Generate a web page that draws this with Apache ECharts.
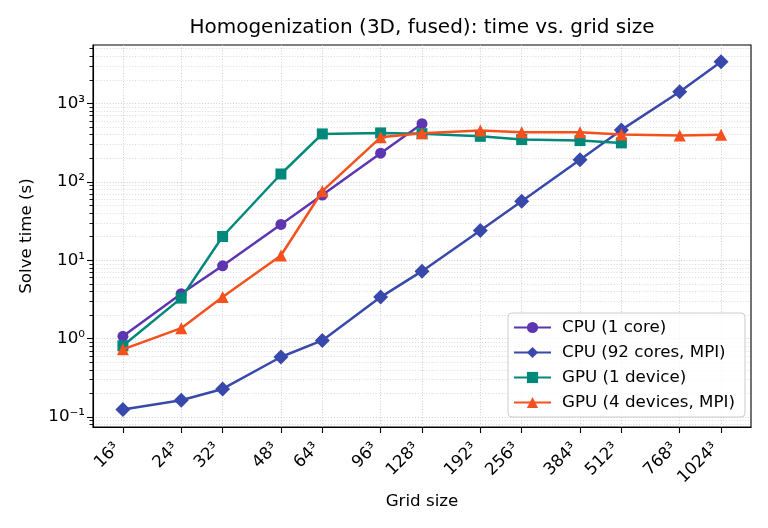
<!DOCTYPE html>
<html><head><meta charset="utf-8">
<script src="https://cdn.jsdelivr.net/npm/echarts@6/dist/echarts.min.js"></script>
<style>html,body{margin:0;padding:0;background:#fff}#c{width:768px;height:528px}</style>
</head><body><div id="c"></div>
<script>
const gridSizes = [16, 24, 32, 48, 64, 96, 128, 192, 256, 384, 512, 768, 1024];
const gridLabels = ['16³','24³','32³','48³','64³','96³','128³','192³','256³','384³','512³','768³','1024³'];
const cpu1  = [1.07, 3.74, 8.5, 28.6, 68, 232, 552, null, null, null, null, null, null];
const cpu92 = [0.125, 0.164, 0.228, 0.583, 0.95, 3.39, 7.26, 24, 56.6, 192, 460, 1414, 3406];
const gpu1  = [0.81, 3.29, 20.1, 126, 409, 421, 412, 381, 346, 336, 314, null, null];
const gpu4  = [0.73, 1.36, 3.39, 11.5, 76, 370, 418, 451, 428, 428, 401, 389, 398];
const seriesNames = ['CPU (1 core)', 'CPU (92 cores, MPI)', 'GPU (1 device)', 'GPU (4 devices, MPI)'];
const yMajor = [0.1, 1, 10, 100, 1000];
const yMajorLabels = ['10⁻¹', '10⁰', '10¹', '10²', '10³'];
const yMinorMult = [2, 3, 4, 5, 6, 7, 8, 9];

const FONT = 'DejaVu Sans';
const FS = 16.7;
const colors = ['#5E35B1', '#3949AB', '#00897B', '#F4511E'];
const symbols = ['circle', 'diamond', 'rect', 'triangle'];
const symSizes = [11, 15, 11, 12];
const xs = gridSizes.map(n => Math.log2(n));
const yMinor = [];
[0.01, 0.1, 1, 10, 100, 1000].forEach(d => yMinorMult.forEach(m => yMinor.push(+(d * m).toPrecision(3))));
const yMin = 0.0746, yMax = 5572;
const yMinorIn = yMinor.filter(v => v >= yMin && v <= yMax);

function mk(vals) { return vals.map((v, i) => v == null ? null : [xs[i], v]).filter(p => p); }
const allData = [cpu1, cpu92, gpu1, gpu4];

const grid = { left: 93, right: 17, top: 45, bottom: 101, show: true, borderColor: '#000', borderWidth: 1.1, containLabel: false };
const majorGrid = { color: '#c8c8c8', width: 0.9, type: [1, 1.8] };
const minorGrid = { color: '#d6d6d6', width: 0.9, type: [1, 1.8] };

const option = {
  animation: false,
  backgroundColor: '#fff',
  title: {
    text: 'Homogenization (3D, fused): time vs. grid size',
    left: 417, top: 13, textAlign: 'center',
    textStyle: { fontFamily: FONT, fontSize: 20, fontWeight: 'normal', color: '#000' }
  },
  legend: {
    orient: 'vertical', left: 508, top: 313,
    padding: [6, 10, 6, 5],
    itemWidth: 37, itemHeight: 14, itemGap: 8,
    backgroundColor: 'rgba(255,255,255,0.8)', borderColor: '#cccccc', borderWidth: 1, borderRadius: 4,
    textStyle: { fontFamily: FONT, fontSize: FS, color: '#000', padding: [0, 0, 0, 6] },
    data: seriesNames
  },
  grid: grid,
  xAxis: {
    type: 'value', min: 3.7, max: 10.3,
    name: 'Grid size', nameLocation: 'middle', nameGap: 62,
    nameTextStyle: { fontFamily: FONT, fontSize: FS, color: '#000' },
    axisLine: { show: true, onZero: false, lineStyle: { color: '#000', width: 1.1 } },
    axisTick: { show: true, length: 6, customValues: xs, lineStyle: { color: '#000', width: 1.1 } },
    axisLabel: {
      customValues: xs, rotate: 45, margin: 13, padding: [0, 8, 0, 0],
      fontFamily: FONT, fontSize: FS, color: '#000',
      formatter: v => { let best = 0; xs.forEach((x, i) => { if (Math.abs(x - v) < Math.abs(xs[best] - v)) best = i; }); return gridLabels[best]; }
    },
    splitLine: { show: true, lineStyle: majorGrid }
  },
  yAxis: [{
    type: 'log', min: yMin, max: yMax,
    name: 'Solve time (s)', nameLocation: 'middle', nameGap: 58,
    nameTextStyle: { fontFamily: FONT, fontSize: FS, color: '#000' },
    axisLine: { show: true, lineStyle: { color: '#000', width: 1.1 } },
    axisTick: { show: true, length: 6, customValues: yMajor, lineStyle: { color: '#000', width: 1.1 } },
    axisLabel: {
      customValues: yMajor, margin: 8, fontFamily: FONT, fontSize: FS, color: '#000',
      formatter: v => { let best = 0; yMajor.forEach((y, i) => { if (Math.abs(Math.log10(y / v)) < Math.abs(Math.log10(yMajor[best] / v))) best = i; }); return yMajorLabels[best]; }
    },
    splitLine: { show: true, lineStyle: majorGrid }
  }, {
    type: 'log', min: yMin, max: yMax, position: 'left',
    axisLine: { show: false },
    axisTick: { show: true, length: 3.5, customValues: yMinorIn, lineStyle: { color: '#000', width: 0.9 } },
    axisLabel: { show: false },
    splitLine: { show: true, lineStyle: minorGrid }
  }],
  series: allData.map((d, k) => ({
    name: seriesNames[k], type: 'line', yAxisIndex: 0,
    data: mk(d),
    symbol: symbols[k], symbolSize: symSizes[k],
    lineStyle: { color: colors[k], width: 2.5 },
    itemStyle: { color: colors[k] },
    z: 3 + k
  }))
};
const chart = echarts.init(document.getElementById('c'), null, { renderer: 'canvas' });
chart.setOption(option);
</script></body></html>
